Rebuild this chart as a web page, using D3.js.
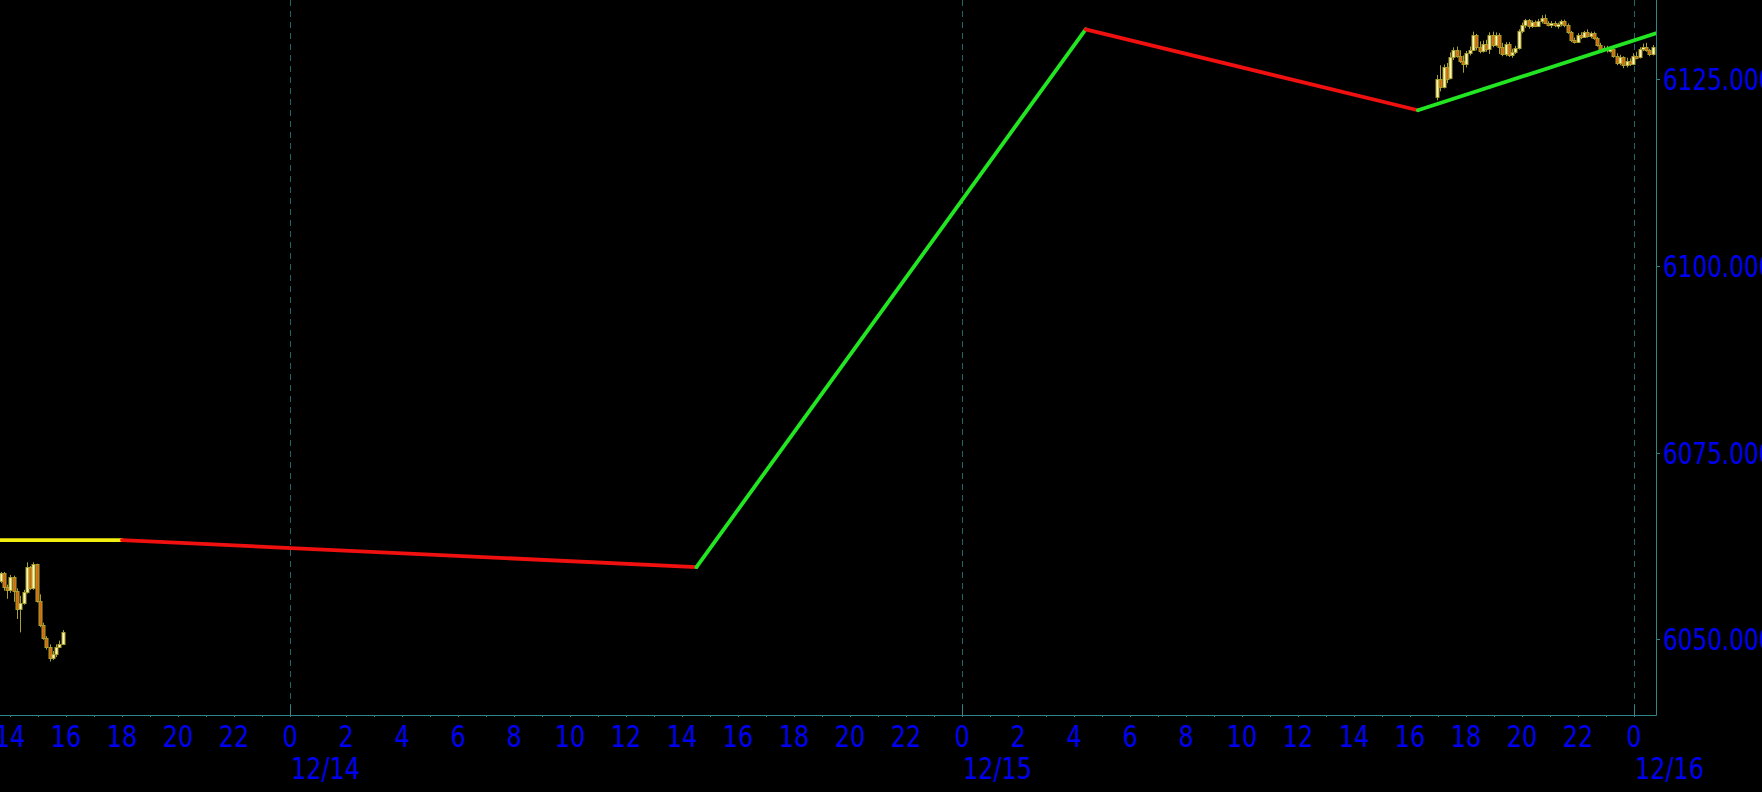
<!DOCTYPE html>
<html><head><meta charset="utf-8">
<script src="https://cdn.jsdelivr.net/npm/d3@7"></script>
<style>html,body{margin:0;padding:0;background:#000;overflow:hidden}</style>
</head><body>
<svg id="chart" width="1762" height="792"></svg>
<script>
// ---------- data ----------
const xDomain = ["2024-12-13T13:38:34", "2024-12-16T00:47:09"];
const yDomain = [6039.83, 6135.64];
const yTickValues = [6050, 6075, 6100, 6125];
const yTickLabels = ["6050.000", "6075.000", "6100.000", "6125.000"];

const zigzagTimes = ["2024-12-13T13:20:00", "2024-12-13T18:00:00", "2024-12-14T14:31:00",
                     "2024-12-15T04:25:00", "2024-12-15T16:17:00", "2024-12-16T00:47:09"];
const zigzagValues = [6063.26, 6063.26, 6059.65, 6131.71, 6120.87, 6131.17];
const zigzagLegs = ["flat", "down", "up", "down", "up"];

const barMinutes = 7;
const leftStart = "2024-12-13T13:33:00";
const leftOpen  = [6058.0,6057.8,6058.9,6057.0,6056.6,6058.3,6056.5,6054.0,6054.9,6056.3,6059.6,6056.9,6060.0,6055.1,6051.9,6050.2,6049.0,6047.5,6048.0,6049.0,6049.4];
const leftHigh  = [6059.0,6059.0,6059.0,6057.3,6058.6,6058.5,6056.8,6055.8,6056.6,6060.3,6059.8,6060.3,6060.1,6056.0,6052.2,6050.4,6049.3,6048.4,6049.3,6049.8,6051.2];
const leftLow   = [6057.6,6057.5,6056.5,6055.4,6056.2,6055.0,6052.7,6050.9,6054.6,6056.1,6056.6,6056.6,6054.9,6051.6,6049.9,6048.6,6047.0,6047.2,6047.6,6048.8,6049.2];
const leftClose = [6058.6,6058.9,6057.0,6056.6,6058.3,6056.5,6054.0,6054.9,6056.3,6059.6,6056.9,6060.0,6055.1,6051.9,6050.2,6049.0,6047.5,6048.0,6049.0,6049.4,6050.9];

const rightStart = "2024-12-15T16:58:00";
const rightOpen  = [6122.6,6125.0,6124.0,6126.6,6125.2,6128.0,6128.9,6128.2,6127.4,6127.0,6128.5,6129.0,6130.9,6129.3,6128.8,6129.8,6129.1,6130.9,6129.6,6131.0,6129.4,6128.4,6129.8,6128.3,6128.7,6129.2,6131.5,6132.3,6132.9,6132.1,6132.7,6132.2,6132.8,6133.2,6132.6,6132.4,6132.6,6132.3,6132.4,6132.8,6132.3,6131.3,6130.3,6130.0,6130.9,6130.7,6131.3,6130.8,6131.2,6130.5,6129.6,6129.0,6129.2,6128.9,6129.1,6128.2,6127.2,6128.0,6126.9,6127.5,6127.0,6128.2,6128.0,6129.1,6129.4,6128.9,6128.4];
const rightHigh  = [6125.6,6126.9,6127.0,6127.2,6128.6,6129.3,6129.4,6128.9,6128.2,6128.8,6129.4,6131.4,6131.1,6130.1,6130.2,6130.3,6131.3,6131.4,6131.3,6131.2,6129.9,6130.0,6130.0,6129.1,6129.5,6131.7,6132.6,6133.1,6133.1,6132.9,6132.9,6133.1,6133.6,6133.7,6132.8,6132.8,6132.8,6132.6,6133.0,6133.0,6132.5,6131.5,6130.6,6131.2,6131.3,6131.5,6131.7,6131.4,6131.4,6130.7,6129.9,6129.5,6129.5,6129.3,6129.3,6128.5,6128.3,6128.1,6127.9,6127.8,6128.5,6128.7,6129.3,6129.8,6129.9,6129.1,6129.6];
const rightLow   = [6122.2,6123.4,6123.8,6124.5,6125.0,6127.6,6127.9,6127.2,6125.9,6126.6,6128.2,6128.8,6128.9,6128.5,6128.6,6128.7,6128.4,6129.3,6129.4,6128.4,6128.1,6128.1,6128.0,6127.9,6128.4,6129.0,6131.2,6131.9,6131.8,6131.9,6132.0,6132.0,6132.5,6132.4,6132.1,6131.9,6132.0,6131.8,6132.1,6132.0,6131.1,6130.0,6129.8,6129.9,6130.4,6130.6,6130.6,6130.5,6130.3,6129.4,6128.8,6128.8,6128.6,6128.6,6127.9,6126.9,6126.9,6126.5,6126.6,6126.8,6126.9,6127.7,6127.8,6128.8,6128.7,6128.1,6128.2];
const rightClose = [6125.0,6124.0,6126.6,6125.0,6128.0,6128.9,6128.2,6127.4,6127.0,6128.5,6129.0,6130.9,6129.3,6128.8,6129.8,6129.1,6130.9,6129.6,6131.0,6129.4,6128.4,6129.8,6128.3,6128.7,6129.2,6131.5,6132.3,6132.9,6132.1,6132.7,6132.2,6132.8,6133.2,6132.6,6132.4,6132.6,6132.3,6132.4,6132.8,6132.3,6131.3,6130.3,6130.0,6130.9,6130.7,6131.3,6130.8,6131.2,6130.5,6129.6,6129.0,6129.2,6128.9,6129.1,6128.2,6127.2,6128.0,6126.9,6127.5,6127.0,6128.2,6128.0,6129.1,6129.4,6128.9,6128.4,6129.3];

// ---------- layout ----------
const W = 1762, H = 792;
const plotR = 1656, plotB = 715;
const parse = d3.timeParse("%Y-%m-%dT%H:%M:%S");
const svg = d3.select("#chart");
svg.append("rect").attr("width", W).attr("height", H).attr("fill", "#000");

const x = d3.scaleTime().domain(xDomain.map(parse)).range([0, plotR]);
const y = d3.scaleLinear().domain(yDomain).range([plotB, 0]);

const AXIS = "#2f8585", GRID = "#1f6666", TXT = "#0000f0";
const FONT = "'DejaVu Sans Condensed','DejaVu Sans',sans-serif";

svg.append("clipPath").attr("id", "clip").append("rect")
  .attr("x", 0).attr("y", 0).attr("width", plotR).attr("height", plotB);
const plot = svg.append("g").attr("clip-path", "url(#clip)");

// day gridlines
const days = d3.timeDay.range(x.domain()[0], x.domain()[1]).filter(d => x(d) > 0);
days.forEach(d => {
  plot.append("line").attr("x1", Math.round(x(d)) + 0.5).attr("x2", Math.round(x(d)) + 0.5)
    .attr("y1", 0).attr("y2", plotB)
    .attr("stroke", GRID).attr("stroke-width", 1).attr("stroke-dasharray", "6,5");
});

// candles
const OLIVE = "#a8a030";
function drawBars(start, O, Hh, L, C) {
  const t0 = parse(start);
  O.forEach((o, i) => {
    const t = d3.timeMinute.offset(t0, i * barMinutes);
    const cx = Math.round(x(t)) + 0.5;
    const up = C[i] >= o;
    const top = Math.round(y(Math.max(o, C[i]))) + 0.5;
    const bot = Math.max(top + 2, Math.round(y(Math.min(o, C[i]))) + 0.5);
    plot.append("line").attr("x1", cx).attr("x2", cx)
      .attr("y1", y(Hh[i])).attr("y2", y(L[i]))
      .attr("stroke", OLIVE).attr("stroke-width", 1);
    plot.append("rect").attr("x", cx - 1.5).attr("y", top).attr("width", 3).attr("height", bot - top)
      .attr("fill", up ? "#fff6b0" : "#d8640c")
      .attr("stroke", OLIVE).attr("stroke-width", 1);
  });
}
drawBars(leftStart, leftOpen, leftHigh, leftLow, leftClose);
drawBars(rightStart, rightOpen, rightHigh, rightLow, rightClose);

// zigzag
const legColor = {flat: "#f2ee10", down: "#f01010", up: "#22e622"};
zigzagLegs.forEach((leg, i) => {
  plot.append("line")
    .attr("x1", x(parse(zigzagTimes[i]))).attr("y1", y(zigzagValues[i]))
    .attr("x2", x(parse(zigzagTimes[i + 1]))).attr("y2", y(zigzagValues[i + 1]))
    .attr("stroke", legColor[leg]).attr("stroke-width", 3.8).attr("stroke-linecap", "round");
});

// axes frame
svg.append("line").attr("x1", 0).attr("x2", plotR + 0.5).attr("y1", plotB + 0.5).attr("y2", plotB + 0.5)
  .attr("stroke", AXIS).attr("stroke-width", 1);
svg.append("line").attr("x1", plotR + 0.5).attr("x2", plotR + 0.5).attr("y1", 0).attr("y2", plotB + 0.5)
  .attr("stroke", AXIS).attr("stroke-width", 1);

// x ticks (hourly minor, day major)
const hours = d3.timeHour.range(x.domain()[0], x.domain()[1]);
hours.forEach(h => {
  const xx = Math.round(x(h)) + 0.5;
  const isDay = h.getHours() === 0;
  svg.append("line").attr("x1", xx).attr("x2", xx)
    .attr("y1", isDay ? plotB - 10 : plotB).attr("y2", plotB + 2)
    .attr("stroke", AXIS).attr("stroke-width", 1);
});
const fmtH = d3.timeFormat("%-H"), fmtD = d3.timeFormat("%m/%d");
hours.filter(h => h.getHours() % 2 === 0).forEach(h => {
  svg.append("text").attr("transform", `translate(${x(h)},747) scale(0.86,1)`)
    .attr("text-anchor", "middle").attr("font-family", FONT).attr("font-size", 31)
    .attr("fill", TXT).text(fmtH(h));
});
days.forEach(d => {
  svg.append("text").attr("transform", `translate(${x(d) + 1},779) scale(0.86,1)`)
    .attr("font-family", FONT).attr("font-size", 31).attr("fill", TXT).text(fmtD(d));
});

// y ticks
yTickValues.forEach((v, i) => {
  const yy = Math.round(y(v)) + 0.5;
  svg.append("line").attr("x1", plotR).attr("x2", plotR + 4).attr("y1", yy).attr("y2", yy)
    .attr("stroke", AXIS).attr("stroke-width", 1);
  svg.append("text").attr("transform", `translate(${plotR + 7},${y(v) + 11}) scale(0.83,1)`)
    .attr("font-family", FONT).attr("font-size", 31).attr("fill", TXT).text(yTickLabels[i]);
});
</script>
</body></html>
